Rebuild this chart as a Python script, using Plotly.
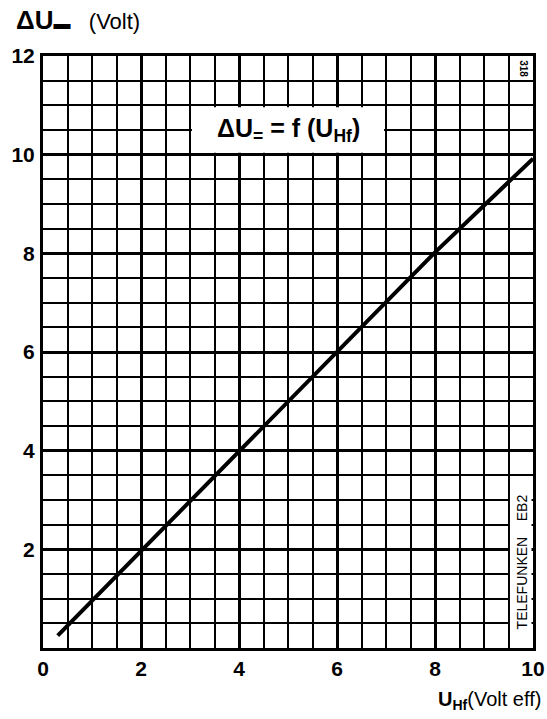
import plotly.graph_objects as go

# Data
u_hf = [0.3, 2, 4, 6, 8, 10]
delta_u = [0.25, 1.97, 3.97, 6.0, 8.02, 9.92]

x_ticks = [0, 2, 4, 6, 8, 10]
y_ticks = [2, 4, 6, 8, 10, 12]

FONT = "Liberation Sans"

fig = go.Figure()
fig.add_trace(go.Scatter(
    x=u_hf, y=delta_u, mode="lines",
    line=dict(color="black", width=4),
    hoverinfo="skip", showlegend=False,
))

axis_common = dict(
    showline=True, mirror=True, linecolor="black", linewidth=3,
    showgrid=True, gridcolor="black", gridwidth=2.6,
    zeroline=False, ticks="", automargin=False,
    tickfont=dict(family=FONT, size=21, color="black", weight="bold"),
    minor=dict(showgrid=True, gridcolor="black", gridwidth=2.2, dtick=0.5),
)

fig.update_xaxes(range=[0, 10], tickvals=x_ticks,
                 ticktext=[str(v) for v in x_ticks], **axis_common)
fig.update_yaxes(range=[0, 12], tickvals=y_ticks,
                 ticktext=[str(v) for v in y_ticks], ticklabelstandoff=1,
                 **axis_common)

# white boxes hiding the grid (title box, and label column)
fig.add_shape(type="rect", x0=3.04, x1=6.96, y0=10.04, y1=10.96,
              fillcolor="white", line=dict(width=0), layer="between")
fig.add_shape(type="rect", x0=9.53, x1=9.97, y0=0.04, y1=3.46,
              fillcolor="white", line=dict(width=0), layer="between")

fig.add_annotation(
    x=5, y=10.5, xref="x", yref="y", showarrow=False,
    text="<b>ΔU<sub>=</sub> = f (U<sub>Hf</sub>)</b>",
    font=dict(family=FONT, size=25, color="black"),
)
fig.add_annotation(
    x=9.77, y=1.75, xref="x", yref="y", showarrow=False, textangle=-90,
    text="TELEFUNKEN    EB2",
    font=dict(family=FONT, size=14, color="black"),
)
fig.add_annotation(
    x=9.8, y=11.75, xref="x", yref="y", showarrow=False, textangle=90,
    text="<b>318</b>",
    font=dict(family=FONT, size=10, color="black"),
)

# axis titles
fig.add_annotation(
    x=-0.06, y=1.06, xref="paper", yref="paper", showarrow=False,
    xanchor="left", yanchor="middle",
    text="<b><span style='font-size:26px'>ΔU</span><span style='font-size:17px'>▬</span></b>   (Volt)",
    font=dict(family=FONT, size=22, color="black"),
)
fig.add_annotation(
    x=1.02, y=-0.088, xref="paper", yref="paper", showarrow=False,
    xanchor="right", yanchor="middle",
    text="<b>U<sub>Hf</sub></b>(Volt eff)",
    font=dict(family=FONT, size=20, color="black"),
)

fig.update_layout(
    width=547, height=719,
    margin=dict(l=43, r=14, t=56, b=71),
    paper_bgcolor="white", plot_bgcolor="white",
    showlegend=False,
)

# remove the browser's default 8px body margin so the figure fills the window
fig.write_html(
    "out.html",
    config={"displayModeBar": False},
    post_script="document.body.style.margin='0';document.body.style.overflow='hidden';",
)
